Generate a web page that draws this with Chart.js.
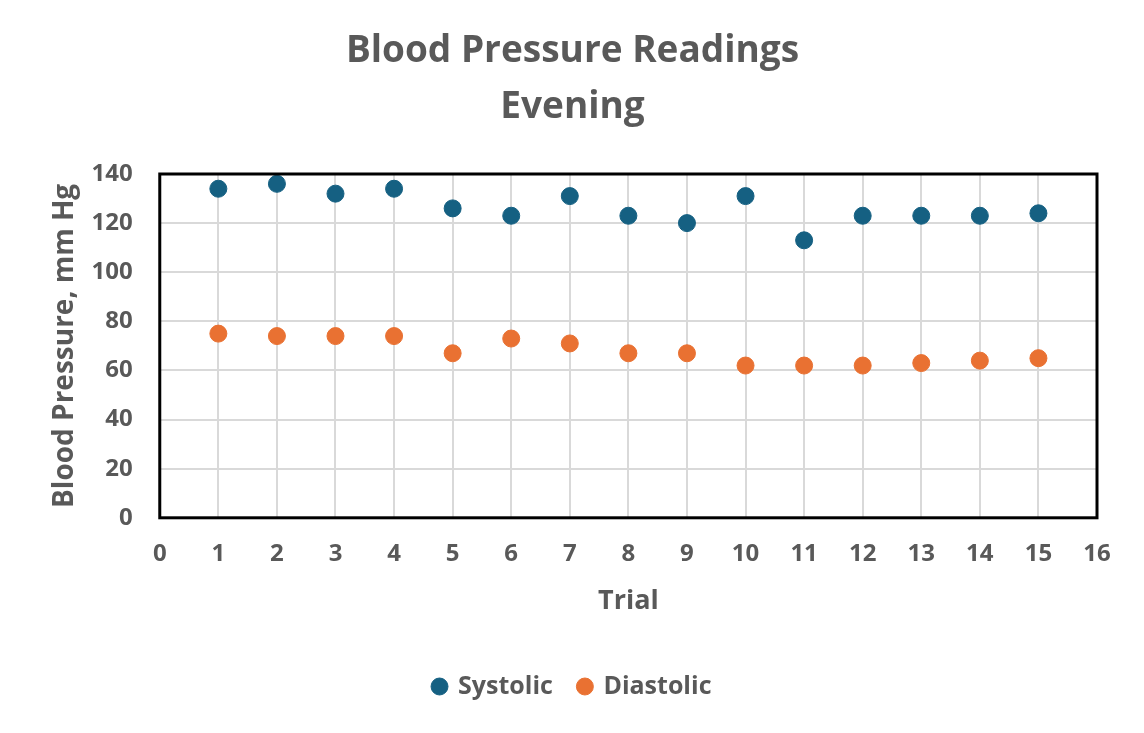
<!DOCTYPE html>
<html lang="en">
<head>
    <meta charset="UTF-8">
    <title>Blood Pressure Readings - Evening</title>
    <script src="https://cdn.jsdelivr.net/npm/chart.js"></script>
    <style>
        html, body { margin: 0; padding: 0; background: #ffffff; }
        .wrap { width: 1144px; height: 733px; position: relative; }
    </style>
</head>
<body>
<div class="wrap"><canvas id="bpChart"></canvas></div>
<script>
    // data
    const trials = [1, 2, 3, 4, 5, 6, 7, 8, 9, 10, 11, 12, 13, 14, 15];
    const systolic = [134, 136, 132, 134, 126, 123, 131, 123, 120, 131, 113, 123, 123, 123, 124];
    const diastolic = [75, 74, 74, 74, 67, 73, 71, 67, 67, 62, 62, 62, 63, 64, 65];
    const xTicks = [0, 1, 2, 3, 4, 5, 6, 7, 8, 9, 10, 11, 12, 13, 14, 15, 16];
    const yTicks = [0, 20, 40, 60, 80, 100, 120, 140];

    const textColor = '#595959';
    const fontFamily = "'Open Sans', 'Noto Sans', sans-serif";

    // black frame round the plot area
    const plotFrame = {
        id: 'plotFrame',
        afterDatasetsDraw(chart) {
            const { ctx, chartArea: a } = chart;
            ctx.save();
            ctx.strokeStyle = '#000000';
            ctx.lineWidth = 3;
            ctx.strokeRect(a.left, a.top, a.right - a.left, a.bottom - a.top);
            ctx.restore();
        }
    };

    const toPoints = vals => trials.map((t, i) => ({ x: t, y: vals[i] }));

    new Chart(document.getElementById('bpChart'), {
        type: 'scatter',
        data: {
            datasets: [{
                label: 'Systolic',
                data: toPoints(systolic),
                backgroundColor: '#156082',
                borderColor: '#156082',
                pointRadius: 8.5,
                pointHoverRadius: 8.5
            }, {
                label: 'Diastolic',
                data: toPoints(diastolic),
                backgroundColor: '#E97132',
                borderColor: '#E97132',
                pointRadius: 8.5,
                pointHoverRadius: 8.5
            }]
        },
        options: {
            responsive: true,
            maintainAspectRatio: false,
            animation: false,
            layout: { padding: { left: 48, right: 47, top: 10, bottom: 24 } },
            plugins: {
                title: {
                    display: true,
                    text: ['Blood Pressure Readings', 'Evening'],
                    color: textColor,
                    font: { family: fontFamily, size: 37, weight: 'bold', lineHeight: 1.5 },
                    padding: { top: 14, bottom: 39 }
                },
                legend: {
                    position: 'bottom',
                    labels: {
                        usePointStyle: true,
                        pointStyle: 'circle',
                        boxWidth: 12,
                        boxHeight: 12,
                        color: textColor,
                        font: { family: fontFamily, size: 25, weight: 'bold' },
                        padding: 26
                    }
                },
                tooltip: { enabled: false }
            },
            scales: {
                x: {
                    type: 'linear',
                    min: 0,
                    max: 16,
                    afterBuildTicks: axis => { axis.ticks = xTicks.map(v => ({ value: v })); },
                    // pull the axis in so the title sits nearer the labels
                    afterFit: axis => { axis.height -= 27; },
                    grid: { color: '#d9d9d9', lineWidth: 2, drawTicks: false },
                    border: { display: false },
                    ticks: {
                        color: textColor,
                        padding: 22,
                        font: { family: fontFamily, size: 24, weight: 'bold' }
                    },
                    title: {
                        display: true,
                        text: 'Trial',
                        color: textColor,
                        font: { family: fontFamily, size: 27, weight: 'bold' },
                        padding: { top: 22, bottom: 30 }
                    }
                },
                y: {
                    type: 'linear',
                    min: 0,
                    max: 140,
                    afterBuildTicks: axis => { axis.ticks = yTicks.map(v => ({ value: v })); },
                    afterFit: axis => { axis.width -= 31; },
                    grid: { color: '#d9d9d9', lineWidth: 2, drawTicks: false },
                    border: { display: false },
                    ticks: {
                        color: textColor,
                        padding: 27,
                        font: { family: fontFamily, size: 24, weight: 'bold' }
                    },
                    title: {
                        display: true,
                        text: 'Blood Pressure, mm Hg',
                        color: textColor,
                        font: { family: fontFamily, size: 28, weight: 'bold' },
                        padding: { top: 0, bottom: 14 }
                    }
                }
            }
        },
        plugins: [plotFrame]
    });
</script>
</body>
</html>
